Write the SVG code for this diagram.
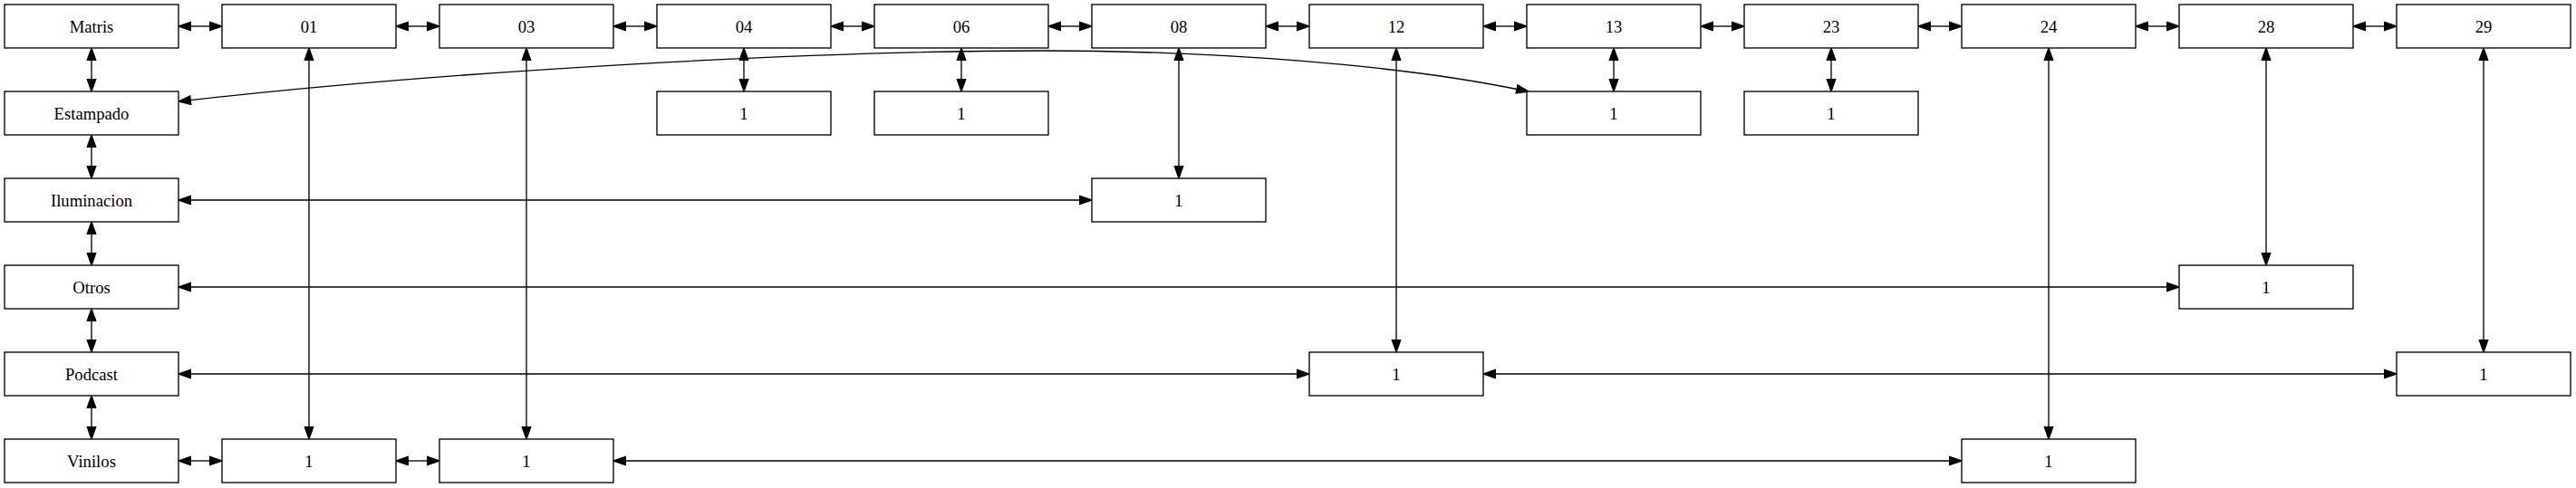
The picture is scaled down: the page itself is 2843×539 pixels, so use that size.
<svg xmlns="http://www.w3.org/2000/svg" width="2843" height="539" viewBox="0 0 2843 539">
<style>
.n rect{fill:#fff;stroke:#000;stroke-width:1.33}
.n text{font-family:"Liberation Serif","Times New Roman",serif;font-size:18.67px;text-anchor:middle;fill:#000}
.e path{fill:none;stroke:#000;stroke-width:1.33;marker-start:url(#ah);marker-end:url(#ah)}
</style>
<defs>
<marker id="ah" viewBox="0 0 14 10" refX="0" refY="5" markerWidth="14" markerHeight="10" markerUnits="userSpaceOnUse" orient="auto-start-reverse" overflow="visible">
<path d="M0,0.33 L13.33,5 L0,9.67 Z" fill="#000" stroke="#000" stroke-width="1.33"/>
</marker>
</defs>
<rect width="2843" height="539" fill="#fff"/>
<g class="e" id="connectors">
<path d="M210.3,29 H231.7"/>
<path d="M450.3,29 H471.7"/>
<path d="M690.3,29 H711.7"/>
<path d="M930.3,29 H951.7"/>
<path d="M1170.3,29 H1191.7"/>
<path d="M1410.3,29 H1431.7"/>
<path d="M1650.3,29 H1671.7"/>
<path d="M1890.3,29 H1911.7"/>
<path d="M2130.3,29 H2151.7"/>
<path d="M2370.3,29 H2391.7"/>
<path d="M2610.3,29 H2631.7"/>
<path d="M101,66.3 V87.7"/>
<path d="M101,162.3 V183.7"/>
<path d="M101,258.3 V279.7"/>
<path d="M101,354.3 V375.7"/>
<path d="M101,450.3 V471.7"/>
<path d="M341,66.3 V471.7"/>
<path d="M581,66.3 V471.7"/>
<path d="M821,66.3 V87.7"/>
<path d="M1061,66.3 V87.7"/>
<path d="M1301,66.3 V183.7"/>
<path d="M1541,66.3 V375.7"/>
<path d="M1781,66.3 V87.7"/>
<path d="M2021,66.3 V87.7"/>
<path d="M2261,66.3 V471.7"/>
<path d="M2501,66.3 V279.7"/>
<path d="M2741,66.3 V375.7"/>
<path d="M210.2,110.6 C500,78 900,56 1150,56 C1350,56 1550,73 1674,98.5"/>
<path d="M210.3,221 H1191.7"/>
<path d="M210.3,317 H2391.7"/>
<path d="M210.3,413 H1431.7"/>
<path d="M1650.3,413 H2631.7"/>
<path d="M210.3,509 H231.7"/>
<path d="M450.3,509 H471.7"/>
<path d="M690.3,509 H2151.7"/>
</g>
<g class="n" id="matris"><rect x="5" y="5" width="192" height="48"/><text x="101" y="35.5">Matris</text></g>
<g class="n" id="n01"><rect x="245" y="5" width="192" height="48"/><text x="341" y="35.5">01</text></g>
<g class="n" id="n03"><rect x="485" y="5" width="192" height="48"/><text x="581" y="35.5">03</text></g>
<g class="n" id="n04"><rect x="725" y="5" width="192" height="48"/><text x="821" y="35.5">04</text></g>
<g class="n" id="n06"><rect x="965" y="5" width="192" height="48"/><text x="1061" y="35.5">06</text></g>
<g class="n" id="n08"><rect x="1205" y="5" width="192" height="48"/><text x="1301" y="35.5">08</text></g>
<g class="n" id="n12"><rect x="1445" y="5" width="192" height="48"/><text x="1541" y="35.5">12</text></g>
<g class="n" id="n13"><rect x="1685" y="5" width="192" height="48"/><text x="1781" y="35.5">13</text></g>
<g class="n" id="n23"><rect x="1925" y="5" width="192" height="48"/><text x="2021" y="35.5">23</text></g>
<g class="n" id="n24"><rect x="2165" y="5" width="192" height="48"/><text x="2261" y="35.5">24</text></g>
<g class="n" id="n28"><rect x="2405" y="5" width="192" height="48"/><text x="2501" y="35.5">28</text></g>
<g class="n" id="n29"><rect x="2645" y="5" width="192" height="48"/><text x="2741" y="35.5">29</text></g>
<g class="n" id="estampado"><rect x="5" y="101" width="192" height="48"/><text x="101" y="131.5">Estampado</text></g>
<g class="n" id="est04"><rect x="725" y="101" width="192" height="48"/><text x="821" y="131.5">1</text></g>
<g class="n" id="est06"><rect x="965" y="101" width="192" height="48"/><text x="1061" y="131.5">1</text></g>
<g class="n" id="est13"><rect x="1685" y="101" width="192" height="48"/><text x="1781" y="131.5">1</text></g>
<g class="n" id="est23"><rect x="1925" y="101" width="192" height="48"/><text x="2021" y="131.5">1</text></g>
<g class="n" id="iluminacion"><rect x="5" y="197" width="192" height="48"/><text x="101" y="227.5">Iluminacion</text></g>
<g class="n" id="ilu08"><rect x="1205" y="197" width="192" height="48"/><text x="1301" y="227.5">1</text></g>
<g class="n" id="otros"><rect x="5" y="293" width="192" height="48"/><text x="101" y="323.5">Otros</text></g>
<g class="n" id="otr28"><rect x="2405" y="293" width="192" height="48"/><text x="2501" y="323.5">1</text></g>
<g class="n" id="podcast"><rect x="5" y="389" width="192" height="48"/><text x="101" y="419.5">Podcast</text></g>
<g class="n" id="pod12"><rect x="1445" y="389" width="192" height="48"/><text x="1541" y="419.5">1</text></g>
<g class="n" id="pod29"><rect x="2645" y="389" width="192" height="48"/><text x="2741" y="419.5">1</text></g>
<g class="n" id="vinilos"><rect x="5" y="485" width="192" height="48"/><text x="101" y="515.5">Vinilos</text></g>
<g class="n" id="vin01"><rect x="245" y="485" width="192" height="48"/><text x="341" y="515.5">1</text></g>
<g class="n" id="vin03"><rect x="485" y="485" width="192" height="48"/><text x="581" y="515.5">1</text></g>
<g class="n" id="vin24"><rect x="2165" y="485" width="192" height="48"/><text x="2261" y="515.5">1</text></g>
</svg>
